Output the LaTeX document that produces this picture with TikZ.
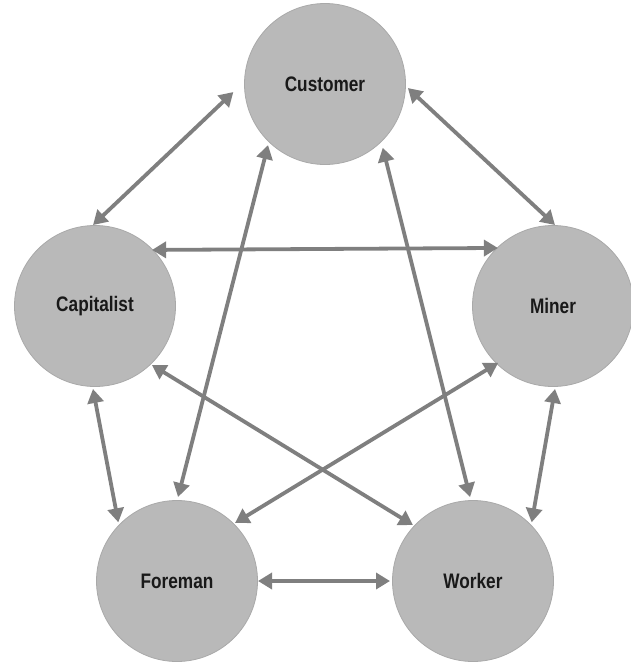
\documentclass[tikz,border=0pt]{standalone}
\usepackage{fontspec}
\newfontfamily\labfont{Liberation Sans}[FakeStretch=0.82]
\usetikzlibrary{arrows.meta,calc}
\definecolor{circfill}{HTML}{B9B9B9}
\definecolor{circline}{HTML}{A9A9A9}
\definecolor{arrcol}{HTML}{7F7F7F}
\begin{document}
\begin{tikzpicture}[x=1pt,y=1pt,
  actor/.style={circle,fill=circfill,draw=circline,line width=0.8pt,minimum size=161pt,inner sep=0pt,
    font=\labfont\bfseries\fontsize{21}{24}\selectfont,text=black!90},
  link/.style={draw=arrcol,line width=3.8pt,{Triangle[length=14pt,width=16pt]}-{Triangle[length=14pt,width=16pt]}}]
\useasboundingbox (0,0) rectangle (630,-664);
\node[actor] (cust) at (325,-84) {\raisebox{-3pt}{Customer}};
\node[actor] (cap) at (95,-306) {Capitalist};
\node[actor] (miner) at (553,-306) {Miner};
\node[actor] (fore) at (177,-581) {Foreman};
\node[actor] (work) at (473,-581) {Worker};
% connectors
\draw[link] ($(cust.center)+(185:92)$) -- ($(cap.center)+(91.4:81)$);
\draw[link] ($(cust.center)+(-2.8:83)$) -- ($(miner.center)+(88.6:81)$);
\draw[link] ($(cap.center)+(44.5:80)$) -- ($(miner.center)+(133.5:80)$);
\draw[link] ($(cap.center)+(-46:82)$) -- ($(work.center)+(137:82)$);
\draw[link] ($(miner.center)+(226:79)$) -- ($(fore.center)+(45:82)$);
\draw[link] ($(cust.center)+(227:83.5)$) -- ($(fore.center)+(89.3:84)$);
\draw[link] ($(cust.center)+(-47.8:86)$) -- ($(work.center)+(92:84)$);
\draw[link] ($(cap.center)+(268.6:83)$) -- ($(fore.center)+(135:83)$);
\draw[link] ($(miner.center)+(271.4:83)$) -- ($(work.center)+(45:83)$);
\draw[link] ($(fore.center)+(0:81)$) -- ($(work.center)+(180:83)$);
\end{tikzpicture}
\end{document}
